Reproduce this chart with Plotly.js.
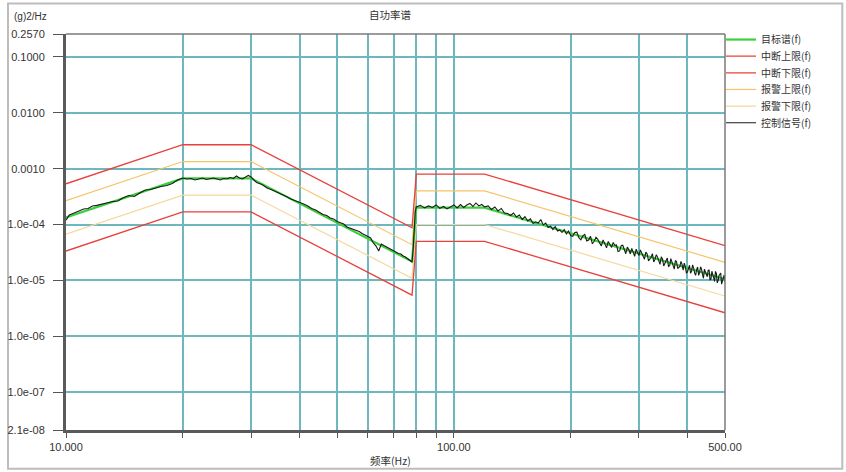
<!DOCTYPE html>
<html><head><meta charset="utf-8">
<script src="https://cdn.plot.ly/plotly-3.0.1.min.js"></script>
<style>html,body{margin:0;padding:0;background:#fff}#chart{width:846px;height:472px}</style>
</head><body><div id="chart"></div>
<script>
// Profile breakpoints (Hz) and levels (g^2/Hz)
const profileFreq = [10, 20, 30, 78, 80, 120, 500];
const targetPsd     = [1.34e-4, 6.7e-4, 6.7e-4, 2.18e-5, 2.0e-4, 2.0e-4, 1.05e-5];
const abortUpperPsd = [5.36e-4, 2.68e-3, 2.68e-3, 8.72e-5, 8.0e-4, 8.0e-4, 4.2e-5];
const abortLowerPsd = [3.35e-5, 1.68e-4, 1.68e-4, 5.45e-6, 5.0e-5, 5.0e-5, 2.63e-6];
const alarmUpperPsd = [2.68e-4, 1.34e-3, 1.34e-3, 4.36e-5, 4.0e-4, 4.0e-4, 2.1e-5];
const alarmLowerPsd = [6.7e-5, 3.35e-4, 3.35e-4, 1.09e-5, 1.0e-4, 1.0e-4, 5.25e-6];

// Control signal
const signalFreq = [
 10,10.2,10.5,10.8,11.1,11.4,11.7,12,12.4,12.8,13.2,13.6,14,14.5,15,15.5,16,16.5,17,17.6,18.2,18.8,19.4,20,
 20.5,21,21.5,22,22.5,23,23.5,24,24.5,25,25.5,26,26.5,27,27.5,28,28.5,29,29.5,30,
 30.5,31,32,33,34,35,36,37,38,39,40,41,42,43,44,45,46,47,48,49,50,51,52,53,54,55,56,57,58,59,60,
 61,62,63,64,65,66,67,68,69,70,71,72,73,74,75,76,77,78,78.5,79,79.5,80,
 82,84,86,88,90,92,94,96,98,100,102,104,106,108,110,112,114,116,118,120,
 122.5,125,127.5,130,132.5,135,137.5,140,142.5,145,147.5,150,152.5,155,157.5,160,162.5,165,167.5,170,
 172.5,175,177.5,180,182.5,185,187.5,190,192.5,195,197.5,200,
 202.5,205,207.5,210,212.5,215,217.5,220,222.5,225,227.5,230,232.5,235,237.5,240,242.5,245,247.5,250,
 252.5,255,257.5,260,262.5,265,267.5,270,272.5,275,277.5,280,282.5,285,287.5,290,292.5,295,297.5,300,
 302.5,305,307.5,310,312.5,315,317.5,320,322.5,325,327.5,330,332.5,335,337.5,340,342.5,345,347.5,350,
 352.5,355,357.5,360,362.5,365,367.5,370,372.5,375,377.5,380,382.5,385,387.5,390,392.5,395,397.5,400,
 402.5,405,407.5,410,412.5,415,417.5,420,422.5,425,427.5,430,432.5,435,437.5,440,442.5,445,447.5,450,
 452.5,455,457.5,460,462.5,465,467.5,470,472.5,475,477.5,480,482.5,485,487.5,490,492.5,495,497.5,500
];
const signalPsd = [
 1.20e-4,1.48e-4,1.61e-4,1.75e-4,1.90e-4,1.94e-4,2.15e-4,2.20e-4,2.33e-4,2.43e-4,2.58e-4,2.64e-4,2.98e-4,3.31e-4,3.17e-4,3.67e-4,4.15e-4,4.23e-4,4.50e-4,4.78e-4,4.99e-4,5.42e-4,6.27e-4,6.80e-4,
 6.53e-4,6.66e-4,6.27e-4,6.53e-4,6.80e-4,6.40e-4,6.53e-4,6.80e-4,6.53e-4,6.27e-4,6.66e-4,6.53e-4,6.94e-4,6.66e-4,7.38e-4,6.80e-4,6.53e-4,7.08e-4,7.54e-4,7.08e-4,
 6.27e-4,5.65e-4,5.20e-4,4.50e-4,4.15e-4,3.82e-4,3.45e-4,3.17e-4,2.86e-4,2.69e-4,2.53e-4,2.33e-4,2.15e-4,1.94e-4,1.82e-4,1.68e-4,1.51e-4,1.45e-4,1.31e-4,1.26e-4,1.13e-4,1.08e-4,1.02e-4,9.03e-5,8.67e-5,8.32e-5,7.82e-5,7.50e-5,6.91e-5,6.49e-5,6.10e-5,
 5.74e-5,4.67e-5,4.12e-5,3.36e-5,4.48e-5,4.21e-5,3.96e-5,3.80e-5,3.57e-5,3.43e-5,3.22e-5,3.03e-5,2.97e-5,2.73e-5,2.62e-5,2.47e-5,2.32e-5,2.13e-5,3.50e-5,8.67e-5,1.68e-4,2.06e-4,
 2.20e-4,1.98e-4,2.15e-4,2.02e-4,2.24e-4,1.94e-4,2.10e-4,1.90e-4,2.06e-4,2.24e-4,1.98e-4,2.28e-4,2.02e-4,2.24e-4,2.38e-4,2.10e-4,2.43e-4,2.15e-4,2.28e-4,2.06e-4,
 2.15e-4,1.86e-4,2.06e-4,1.75e-4,1.94e-4,1.61e-4,1.58e-4,1.45e-4,1.61e-4,1.36e-4,1.48e-4,1.23e-4,1.39e-4,1.16e-4,1.26e-4,1.04e-4,1.12e-4,1.06e-4,1.23e-4,9.80e-5,
 1.06e-4,8.85e-5,9.30e-5,8.15e-5,9.21e-5,7.66e-5,8.00e-5,7.20e-5,8.15e-5,6.77e-5,7.66e-5,6.36e-5,
 6.15e-5,7.20e-5,7.32e-5,5.81e-5,5.33e-5,6.26e-5,6.63e-5,5.07e-5,5.26e-5,6.18e-5,4.52e-5,5.00e-5,5.91e-5,5.44e-5,4.69e-5,4.14e-5,5.31e-5,4.59e-5,3.82e-5,4.98e-5,
 4.23e-5,3.89e-5,4.78e-5,4.23e-5,4.32e-5,3.30e-5,3.37e-5,4.16e-5,4.25e-5,3.47e-5,3.00e-5,3.94e-5,3.56e-5,2.97e-5,3.72e-5,3.17e-5,2.70e-5,3.62e-5,3.26e-5,2.78e-5,
 3.50e-5,3.04e-5,2.64e-5,2.40e-5,3.21e-5,2.97e-5,2.23e-5,2.39e-5,2.60e-5,3.02e-5,2.13e-5,2.39e-5,2.89e-5,2.61e-5,2.17e-5,1.94e-5,2.65e-5,2.41e-5,1.81e-5,2.02e-5,
 2.25e-5,2.52e-5,1.78e-5,1.83e-5,2.46e-5,2.06e-5,1.82e-5,1.59e-5,2.27e-5,2.16e-5,1.63e-5,1.75e-5,1.78e-5,2.18e-5,1.93e-5,1.52e-5,2.04e-5,1.78e-5,1.37e-5,1.41e-5,
 1.72e-5,1.87e-5,1.34e-5,1.46e-5,1.89e-5,1.68e-5,1.35e-5,1.23e-5,1.55e-5,1.74e-5,1.23e-5,1.38e-5,1.75e-5,1.59e-5,1.28e-5,1.09e-5,1.59e-5,1.46e-5,1.35e-5,1.16e-5,
 1.52e-5,1.53e-5,1.01e-5,1.06e-5,1.46e-5,1.30e-5,1.16e-5,9.57e-6,1.45e-5,1.33e-5,9.02e-6,9.90e-6,1.22e-5,1.32e-5,1.36e-5,8.55e-6,9.98e-6,1.11e-5,1.25e-5,9.24e-6
];

const seriesNames = ['目标谱(f)','中断上限(f)','中断下限(f)','报警上限(f)','报警下限(f)','控制信号(f)'];
const yTickVals = [0.257, 0.1, 0.01, 0.001, 1e-4, 1e-5, 1e-6, 1e-7, 2.1e-8];
const yTickText = ['0.2570','0.1000','0.0100','0.0010','1.0e-04','1.0e-05','1.0e-06','1.0e-07','2.1e-08'];
const xTickVals = [10,20,30,40,50,60,70,80,90,100,200,300,400,500];
const xTickText = ['10.000','','','','','','','','','100.00','','','','500.00'];

const cjk = '"Noto Sans CJK SC", "Noto Sans", sans-serif';
const latin = '"Liberation Sans", Arial, sans-serif';
const colors = ['#3ccf3c','#e8403a','#e8403a','#f5c46a','#f6d89c','#1a1a1a'];
const legendRowsY = [0.986, 0.944, 0.902, 0.860, 0.818, 0.776];

function mk(i, x, y, w) {
  return {x: x, y: y, type: 'scatter', mode: 'lines', name: seriesNames[i],
    line: {color: colors[i], width: w}, legend: i === 0 ? 'legend' : 'legend' + (i + 1), hoverinfo: 'skip'};
}
const traces = [
  mk(3, profileFreq, alarmUpperPsd, 1.2),
  mk(4, profileFreq, alarmLowerPsd, 1.2),
  mk(1, profileFreq, abortUpperPsd, 1.3),
  mk(2, profileFreq, abortLowerPsd, 1.3),
  mk(0, profileFreq, targetPsd, 2.2),
  mk(5, signalFreq, signalPsd, 1.1)
];

const layout = {
  width: 846, height: 472,
  margin: {l: 66, r: 121, t: 34, b: 42},
  paper_bgcolor: '#ffffff', plot_bgcolor: '#ffffff',
  showlegend: true,
  title: {text: '自功率谱', font: {family: cjk, size: 10.5, color: '#333'},
          xref: 'paper', x: 0.4917, xanchor: 'center', yref: 'container', y: 0.968, yanchor: 'middle'},
  xaxis: {type: 'log', range: [1, Math.log10(500)], tickmode: 'array', tickvals: xTickVals, ticktext: xTickText,
          showgrid: true, gridcolor: '#6cb8be', gridwidth: 2, zeroline: false,
          ticks: 'outside', ticklen: 5, tickcolor: '#555', tickwidth: 1,
          showline: true, linecolor: '#5a5a5a', linewidth: 3,
          tickfont: {family: latin, size: 11, color: '#333'}},
  yaxis: {type: 'log', range: [Math.log10(2.1e-8), Math.log10(0.257)], tickmode: 'array', tickvals: yTickVals, ticktext: yTickText,
          showgrid: true, gridcolor: '#6cb8be', gridwidth: 2, zeroline: false,
          ticks: 'outside', ticklen: 10, tickcolor: '#555', tickwidth: 1, ticklabelstandoff: 6,
          showline: true, linecolor: '#5a5a5a', linewidth: 3,
          tickfont: {family: latin, size: 11, color: '#333'}},
  shapes: [
    {type: 'rect', xref: 'paper', yref: 'paper', x0: -0.088, x1: 1.178, y0: -0.098, y1: 1.077,
     line: {color: '#bdbdbd', width: 2}, layer: 'below'},
    {type: 'line', xref: 'paper', yref: 'paper', x0: 0, x1: 1, y0: 1, y1: 1, line: {color: '#7a7a7a', width: 1.5}, layer: 'above'},
    {type: 'line', xref: 'paper', yref: 'paper', x0: 1, x1: 1, y0: 0, y1: 1, line: {color: '#7a7a7a', width: 1.5}, layer: 'above'}
  ],
  annotations: [
    {text: '(g)2/Hz', xref: 'paper', yref: 'paper', x: -0.082, y: 1.045, xanchor: 'left', yanchor: 'middle',
     showarrow: false, font: {family: latin, size: 10, color: '#333'}},
    {text: '频率(Hz)', xref: 'paper', yref: 'paper', x: 0.493, y: -0.078, xanchor: 'center', yanchor: 'middle',
     showarrow: false, font: {family: cjk, size: 10.5, color: '#333'}}
  ]
};
const legendNames = ['legend','legend2','legend3','legend4','legend5','legend6'];
legendNames.forEach(function (n, i) {
  layout[n] = {x: 0.994, xanchor: 'left', y: legendRowsY[i], yanchor: 'middle', bgcolor: 'rgba(0,0,0,0)',
               borderwidth: 0, font: {family: cjk, size: 10, color: '#333'}, itemwidth: 30};
});

Plotly.newPlot('chart', traces, layout, {staticPlot: true, displayModeBar: false});
</script>
</body></html>
